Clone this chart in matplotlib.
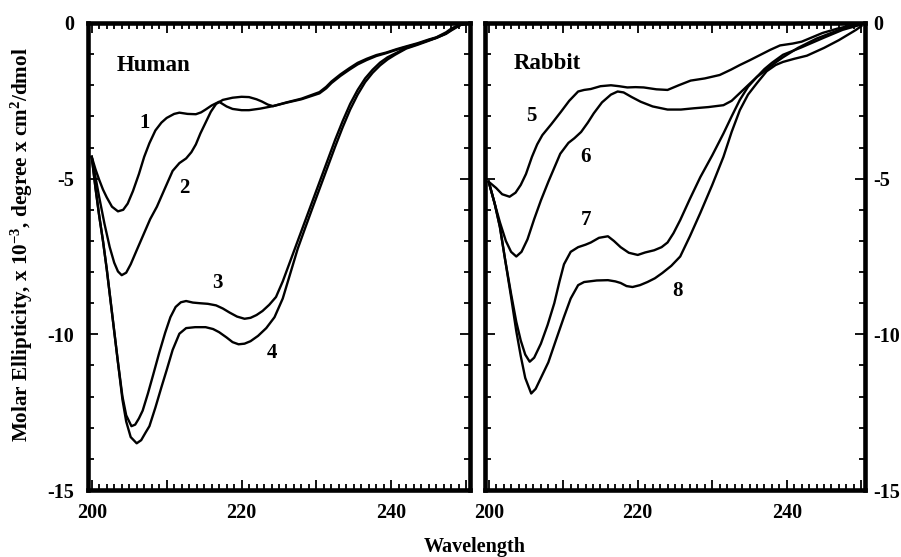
import matplotlib
matplotlib.use("Agg")
import matplotlib.pyplot as plt
from matplotlib.ticker import MultipleLocator, FuncFormatter

plt.rcParams['font.family'] = ['Liberation Serif', 'DejaVu Serif']
plt.rcParams['font.weight'] = 'bold'
plt.rcParams['axes.unicode_minus'] = False
plt.rcParams['mathtext.fontset'] = 'custom'
plt.rcParams['mathtext.rm'] = 'Liberation Serif:bold'
plt.rcParams['mathtext.bf'] = 'Liberation Serif:bold'
plt.rcParams['mathtext.default'] = 'bf'

# ---------------- data (Human) ----------------
wl1 = [200, 200.5, 201, 201.5, 202, 202.7, 203.5, 204.2, 204.8, 205.5, 206.3, 207, 207.7, 208.5, 209.3,
       210, 211, 211.7, 212.8, 213.9, 214.6, 215.2, 216, 217, 218, 218.8, 220, 221, 222.5, 224.2, 226,
       228, 230.4, 231.3, 232, 233.2, 234.4, 235.5, 236.7, 238, 239.3, 240.7, 242, 243.5, 245, 246,
       247.3, 248, 248.7, 249.3, 250]
v1 = [-4.3, -4.7, -5.04, -5.35, -5.6, -5.9, -6.05, -6.0, -5.8, -5.4, -4.85, -4.3, -3.86, -3.45, -3.2,
      -3.05, -2.92, -2.88, -2.92, -2.93, -2.87, -2.78, -2.65, -2.53, -2.68, -2.76, -2.8, -2.8, -2.75, -2.67,
      -2.56, -2.45, -2.26, -2.1, -1.93, -1.7, -1.5, -1.33, -1.19, -1.06, -0.97, -0.86, -0.77, -0.67, -0.55,
      -0.48, -0.33, -0.2, -0.12, -0.05, -0.02]

wl2 = [200, 200.5, 201, 201.7, 202.4, 203, 203.5, 204, 204.6, 205.2, 206, 206.9, 207.8, 208.7, 209.7,
       210.8, 211.7, 212.6, 213.3, 213.9, 214.5, 215.2, 215.9, 216.6, 217.5, 218.8, 220, 221, 222, 222.7,
       223.5, 224.2, 226, 228, 230.4, 231.3, 232, 233.2, 234.4, 235.5, 236.7, 238, 239.3, 240.7, 242,
       243.5, 245, 246, 247.3, 248, 248.7, 249.3, 250]
v2 = [-4.3, -4.95, -5.6, -6.45, -7.2, -7.7, -7.98, -8.1, -8.02, -7.75, -7.3, -6.8, -6.3, -5.9, -5.35,
      -4.75, -4.5, -4.35, -4.15, -3.9, -3.55, -3.2, -2.85, -2.6, -2.47, -2.4, -2.37, -2.38, -2.45, -2.52,
      -2.62, -2.67, -2.55, -2.43, -2.22, -2.05, -1.88, -1.65, -1.45, -1.28, -1.15, -1.03, -0.95, -0.84,
      -0.75, -0.65, -0.53, -0.46, -0.3, -0.18, -0.1, -0.04, 0.0]

wl3 = [200, 200.5, 201, 201.5, 202, 202.5, 203, 203.5, 204.1, 204.6, 205.3, 205.8, 206.3, 206.8, 207.5,
       208.2, 209, 209.8, 210.5, 211.2, 211.9, 212.6, 213.5, 214.4, 215.5, 216.6, 217.5, 218.4, 219.4,
       220.4, 221.2, 222, 222.8, 223.7, 224.6, 225.5, 226.5, 227.5, 228.5, 229.5, 230.5, 231.5, 232.5,
       233.5, 234.5, 235.5, 236.5, 237.5, 238.5, 239.5, 240.5, 242, 243.5, 245, 246, 247.3, 248, 248.7,
       249.3, 250]
v3 = [-4.3, -5.3, -6.2, -7.0, -7.9, -8.9, -9.9, -10.9, -12.0, -12.6, -12.95, -12.9, -12.7, -12.45, -11.9,
      -11.3, -10.6, -9.95, -9.45, -9.12, -8.97, -8.93, -8.98, -9.0, -9.02, -9.07, -9.17, -9.3, -9.43,
      -9.5, -9.47, -9.38, -9.25, -9.05, -8.8, -8.3, -7.65, -7.0, -6.35, -5.7, -5.05, -4.4, -3.75,
      -3.15, -2.6, -2.15, -1.78, -1.5, -1.27, -1.1, -0.98, -0.8, -0.68, -0.55, -0.47, -0.33, -0.22, -0.12,
      -0.05, -0.02]

wl4 = [200, 200.5, 201, 201.5, 202, 202.5, 203, 203.5, 204.1, 204.6, 205.2, 206, 206.6, 207.2, 207.7,
       208.5, 209.3, 210, 210.8, 211.7, 212.6, 213.8, 215.2, 216.2, 217, 218, 218.8, 219.6, 220.4, 221.2,
       222.2, 223.3, 224.4, 225.5, 226.5, 227.5, 228.5, 229.5, 230.5, 231.5, 232.5, 233.5, 234.5, 235.5,
       236.5, 237.5, 238.5, 239.5, 240.5, 242, 243.5, 245, 246, 247.3, 248, 248.7, 249.3, 250]
v4 = [-4.3, -5.3, -6.2, -7.0, -7.9, -8.9, -9.9, -10.9, -12.1, -12.8, -13.3, -13.5, -13.4, -13.15, -12.95,
      -12.35, -11.7, -11.15, -10.5, -9.98, -9.8, -9.77, -9.77, -9.83, -9.93, -10.1, -10.25, -10.32, -10.3,
      -10.22, -10.05, -9.8, -9.45, -8.85, -8.05, -7.25, -6.58, -5.92, -5.27, -4.62, -3.97, -3.35, -2.78,
      -2.3, -1.9, -1.6, -1.36, -1.17, -1.02, -0.82, -0.7, -0.57, -0.48, -0.35, -0.24, -0.14, -0.06, -0.03]

# ---------------- data (Rabbit) ----------------
wl5 = [200, 201, 201.8, 202.8, 203.6, 204.3, 205, 205.8, 206.5, 207.2, 208.4, 209.7, 210.8, 212, 212.8,
       213.7, 215, 216.4, 217.5, 218.6, 219.7, 220.8, 222.5, 224, 225.5, 227.1, 229, 231, 232.5, 233.7,
       235, 236.4, 237.8, 239.1, 240.8, 242, 243.5, 244.8, 246.8, 248.8, 250]
v5 = [-5.1, -5.3, -5.5, -5.58, -5.45, -5.2, -4.85, -4.3, -3.9, -3.6, -3.25, -2.85, -2.5, -2.2, -2.15,
      -2.12, -2.03, -2.0, -2.03, -2.07, -2.06, -2.07, -2.13, -2.15, -2.0, -1.85, -1.78, -1.67, -1.5, -1.35,
      -1.2, -1.03, -0.86, -0.72, -0.66, -0.6, -0.45, -0.32, -0.18, -0.07, -0.02]

wl6 = [200, 200.8, 201.5, 202.3, 203, 203.7, 204.4, 205.2, 206.1, 207, 208, 208.8, 209.6, 210.7, 211.5,
       212.4, 213.3, 214.1, 215.2, 216.4, 217.3, 218.1, 219.2, 220.4, 222, 224, 225.8, 227.5, 229.5,
       231.5, 232.6, 233.7, 234.8, 236, 237, 237.7, 238.6, 239.5, 241.5, 244, 246.5, 248.5, 250]
v6 = [-5.1, -5.8, -6.4, -7.0, -7.35, -7.5, -7.35, -6.95, -6.3, -5.7, -5.1, -4.65, -4.2, -3.85, -3.7,
      -3.5, -3.2, -2.9, -2.55, -2.3, -2.2, -2.23, -2.38, -2.53, -2.68, -2.78, -2.78, -2.74, -2.7,
      -2.64, -2.5, -2.25, -2.0, -1.73, -1.55, -1.41, -1.25, -1.1, -0.8, -0.5, -0.27, -0.1, -0.02]

wl7 = [200, 200.8, 201.5, 202.2, 203, 203.7, 204.3, 204.9, 205.5, 206.1, 207, 207.9, 208.8, 209.5, 210.1,
       211, 212, 213, 213.7, 214.8, 216, 216.8, 217.7, 218.8, 220, 221, 222.2, 223.2, 224, 224.8, 225.7,
       227, 228.4, 230, 231.5, 232.6, 233.7, 234.8, 236, 237, 238, 239.5, 242, 245, 247.5, 250]
v7 = [-5.1, -5.8, -6.55, -7.6, -8.7, -9.6, -10.2, -10.65, -10.88, -10.75, -10.3, -9.7, -9.0, -8.3, -7.75,
      -7.35, -7.2, -7.12, -7.05, -6.9, -6.85, -7.0, -7.2, -7.38, -7.45, -7.37, -7.3, -7.2, -7.05, -6.75,
      -6.33, -5.65, -4.95, -4.25, -3.55, -3.0, -2.47, -2.05, -1.73, -1.48, -1.28, -1.02, -0.78, -0.47,
      -0.22, -0.05]

wl8 = [200, 200.8, 201.5, 202.2, 203, 203.7, 204.3, 204.9, 205.7, 206.3, 207, 208, 209, 210.1, 211, 212,
       212.8, 214.5, 216, 217, 217.7, 218.5, 219.3, 220.3, 221.3, 222.3, 223.3, 224.5, 225.7, 227, 228.4,
       230, 231.5, 232.6, 233.7, 234.8, 236, 237.3, 238.5, 239.5, 241, 242.7, 245, 247, 249.3, 250]
v8 = [-5.1, -5.8, -6.55, -7.6, -8.8, -9.9, -10.7, -11.4, -11.9, -11.75, -11.4, -10.9, -10.2, -9.44, -8.85,
      -8.42, -8.32, -8.27, -8.26, -8.3, -8.35, -8.45, -8.48, -8.42, -8.32, -8.2, -8.03, -7.8, -7.5, -6.85,
      -6.1, -5.2, -4.3, -3.5, -2.8, -2.3, -1.93, -1.55, -1.35, -1.25, -1.15, -1.05, -0.8, -0.55, -0.22,
      -0.1]

human_series = [(wl1, v1), (wl2, v2), (wl3, v3), (wl4, v4)]
rabbit_series = [(wl5, v5), (wl6, v6), (wl7, v7), (wl8, v8)]

human_labels = [("1", 207.0, -3.2), ("2", 212.4, -5.3), ("3", 216.8, -8.35), ("4", 224.0, -10.6)]
rabbit_labels = [("5", 205.7, -3.0), ("6", 213.0, -4.3), ("7", 213.0, -6.33), ("8", 225.3, -8.6)]

xtick_labels = [200, 220, 240]
ytick_values = [0, -5, -10, -15]

# ---------------- figure ----------------
fig = plt.figure(figsize=(9.01, 5.57), dpi=100)
W, H = 901, 557
def axrect(l, r, t, b):
    return [l / W, 1 - b / H, (r - l) / W, (b - t) / H]

axL = fig.add_axes(axrect(88, 470, 23, 490))
axR = fig.add_axes(axrect(485, 865, 23, 490))

def style(ax, side):
    ax.set_xlim(199.5, 250.5)
    ax.set_ylim(-15, 0)
    for s in ax.spines.values():
        s.set_linewidth(3.3)
    ax.xaxis.set_major_locator(MultipleLocator(10))
    ax.xaxis.set_minor_locator(MultipleLocator(1))
    ax.yaxis.set_major_locator(MultipleLocator(5))
    ax.yaxis.set_minor_locator(MultipleLocator(1))
    ax.xaxis.set_major_formatter(FuncFormatter(
        lambda x, p: f"{int(round(x))}" if int(round(x)) in xtick_labels else ""))
    ax.yaxis.set_major_formatter(FuncFormatter(
        lambda y, p: f"{int(round(y))}" if int(round(y)) in ytick_values else ""))
    ax.tick_params(which='both', direction='in', top=True, bottom=True, left=True, right=True,
                   width=1.3, labelsize=14.5)
    ax.tick_params(which='major', length=7, pad=9)
    ax.tick_params(which='minor', length=4)
    if side == 'left':
        ax.tick_params(axis='y', labelleft=True, labelright=False, pad=10)
    else:
        ax.tick_params(axis='y', labelleft=False, labelright=True, pad=6)
    for lab in ax.get_xticklabels() + ax.get_yticklabels():
        lab.set_fontweight('bold')

style(axL, 'left')
style(axR, 'right')

for wl, v in human_series:
    axL.plot(wl, v, color='black', lw=1.7, solid_joinstyle='round')
for wl, v in rabbit_series:
    axR.plot(wl, v, color='black', lw=1.7, solid_joinstyle='round')

for t, x, y in human_labels:
    axL.text(x, y, t, fontsize=15, fontweight='bold', ha='center', va='center')
for t, x, y in rabbit_labels:
    axR.text(x, y, t, fontsize=15, fontweight='bold', ha='center', va='center')

axL.text(203.3, -1.35, "Human", fontsize=16.5, fontweight='bold', ha='left', va='center')
axR.text(203.3, -1.3, "Rabbit", fontsize=16.5, fontweight='bold', ha='left', va='center')

fig.text(475 / W, 1 - 547 / H, "Wavelength", fontsize=14.5, fontweight='bold', ha='center', va='center')
fig.text(22 / W, 1 - 245 / H, r"Molar Ellipticity, x 10$^{-3}$, degree x cm$^{2}$/dmol",
         fontsize=15.2, fontweight='bold', rotation=90, ha='center', va='center')

fig.savefig("out.png", dpi=100)
